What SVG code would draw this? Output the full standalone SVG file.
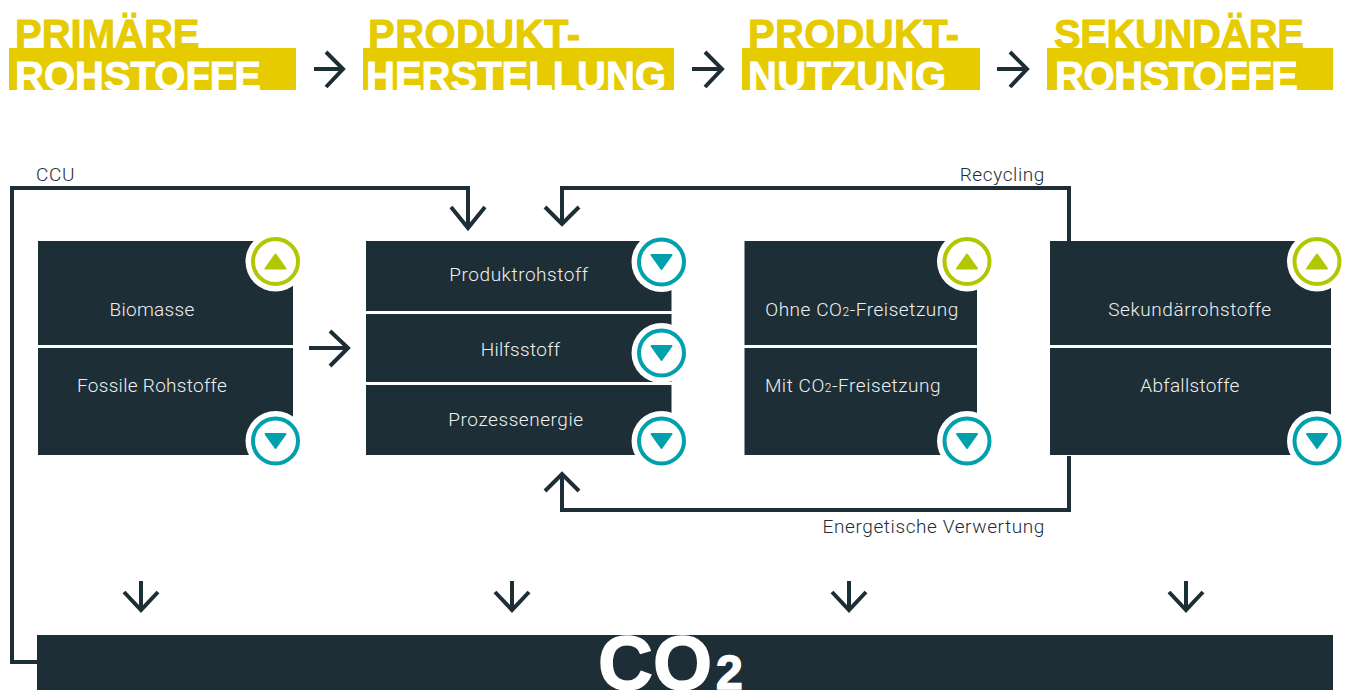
<svg xmlns="http://www.w3.org/2000/svg" width="1349" height="690" viewBox="0 0 1349 690">
<style>
.band{fill:#e5cb00}
.h1{font:bold 40px "Liberation Sans",sans-serif;fill:#e5cb00;stroke:#e5cb00;stroke-width:.9}
.h2{font:bold 40px "Liberation Sans",sans-serif;fill:#fff;stroke:#fff;stroke-width:.9}
.box{fill:#1e2e36}
.t{font:300 19px Roboto,sans-serif;letter-spacing:.55px;fill:#eef0f0;text-anchor:middle}
.n{letter-spacing:.3px}
.s{font-size:12px}
.l{font:300 19px Roboto,sans-serif;letter-spacing:.6px;fill:#1e2e36}
.ln{fill:none;stroke:#1e2e36;stroke-width:4}
.ar{fill:none;stroke:#1e2e36;stroke-width:4}
.halo{fill:#fff}
.up{fill:#fff;stroke:#b1c800;stroke-width:4}
.dn{fill:#fff;stroke:#00a0ad;stroke-width:4}
.tu{fill:#b1c800;stroke:#b1c800;stroke-width:2;stroke-linejoin:round}
.td{fill:#00a0ad;stroke:#00a0ad;stroke-width:2;stroke-linejoin:round}
</style>
<defs>
<clipPath id="c1"><rect x="0" y="48" width="1349" height="42"/></clipPath>
<g id="up"><circle class="halo" r="30"/><circle class="up" r="22.5"/><path class="tu" d="M-10 7H10L0 -7Z"/></g>
<g id="dn"><circle class="halo" r="30"/><circle class="dn" r="22.5"/><path class="td" d="M-10 -7H10L0 7Z"/></g>
</defs>
<g id="head-1"><rect class="band" x="9" y="48" width="287" height="42"/><text class="h1" x="15" y="48">PRIMÄRE</text><text class="h2" x="15" y="90" clip-path="url(#c1)">ROHSTOFFE</text></g>
<g id="head-2"><rect class="band" x="363" y="48" width="311" height="42"/><text class="h1" x="368" y="48" textLength="212">PRODUKT-</text><text class="h2" x="366" y="90" clip-path="url(#c1)">HERSTELLUNG</text></g>
<g id="head-3"><rect class="band" x="742" y="48" width="238" height="42"/><text class="h1" x="748" y="48" textLength="211">PRODUKT-</text><text class="h2" x="748" y="90" clip-path="url(#c1)" textLength="198">NUTZUNG</text></g>
<g id="head-4"><rect class="band" x="1047" y="48" width="286" height="42"/><text class="h1" x="1054" y="48" textLength="250">SEKUNDÄRE</text><text class="h2" x="1055" y="90" clip-path="url(#c1)" textLength="243">ROHSTOFFE</text></g>
<g id="connectors">
<path class="ln" d="M37 662H12V188H468V228"/>
<path class="ln" d="M1069 241V188H562V224"/>
<path class="ln" d="M1069 456V510H562V474"/>
<path class="ar" d="M314 69H343M326 52L343 69L326 87"/>
<path class="ar" d="M692 69H722M705 52L722 69L705 87"/>
<path class="ar" d="M997 69H1027M1010 52L1027 69L1010 87"/>
<path class="ar" d="M309 348H348M330 331L348 348L330 366"/>
<path class="ar" d="M451 207L468 228L485 207"/>
<path class="ar" d="M545 207L562 224L579 207"/>
<path class="ar" d="M545 491L562 474L579 491"/>
<path class="ar" d="M141 581V610M124 592L141 610L158 592"/>
<path class="ar" d="M512 581V610M495 592L512 610L529 592"/>
<path class="ar" d="M849 581V610M832 592L849 610L866 592"/>
<path class="ar" d="M1186 581V610M1169 592L1186 610L1203 592"/>
</g>
<text class="l" x="36" y="181">CCU</text>
<text class="l" x="1045" y="181" text-anchor="end">Recycling</text>
<text class="l" x="1045" y="533" text-anchor="end">Energetische Verwertung</text>
<g id="biomasse"><rect class="box" x="38" y="241" width="255" height="104"/><text class="t n" x="152" y="316">Biomasse</text></g>
<g id="fossil"><rect class="box" x="38" y="348" width="255" height="107"/><text class="t n" x="152" y="392">Fossile Rohstoffe</text></g>
<g id="produktrohstoff"><rect class="box" x="366" y="241" width="305.500" height="70"/><text class="t" x="519" y="281">Produktrohstoff</text></g>
<g id="hilfsstoff"><rect class="box" x="366" y="314" width="305.500" height="68"/><text class="t n" x="520.500" y="356">Hilfsstoff</text></g>
<g id="prozessenergie"><rect class="box" x="366" y="385" width="305.500" height="70"/><text class="t" x="516" y="426">Prozessenergie</text></g>
<g id="ohne"><rect class="box" x="744.500" y="241" width="232.500" height="104"/><text class="t" x="862" y="316">Ohne CO<tspan class="s">2</tspan>-Freisetzung</text></g>
<g id="mit"><rect class="box" x="744.500" y="348" width="232.500" height="107"/><text class="t" x="853" y="392">Mit CO<tspan class="s">2</tspan>-Freisetzung</text></g>
<g id="sekundaer"><rect class="box" x="1050" y="241" width="281" height="104"/><text class="t" x="1190" y="316">Sekundärrohstoffe</text></g>
<g id="abfall"><rect class="box" x="1050" y="348" width="281" height="107"/><text class="t n" x="1190" y="392">Abfallstoffe</text></g>
<g id="co2"><rect class="box" x="37" y="635" width="1296" height="55"/><text x="598" y="689" font-family="Liberation Sans,sans-serif" font-weight="bold" font-size="76" fill="#fff" stroke="#fff" stroke-width="1.5">CO<tspan dx="4" font-size="48">2</tspan></text></g>
<g id="ind-1"><use href="#up" x="275.500" y="261.500"/></g>
<g id="ind-2"><use href="#dn" x="275.500" y="441"/></g>
<g id="ind-3"><use href="#dn" x="661.500" y="262"/></g>
<g id="ind-4"><use href="#dn" x="661.500" y="353"/></g>
<g id="ind-5"><use href="#dn" x="661.500" y="441"/></g>
<g id="ind-6"><use href="#up" x="967" y="261.500"/></g>
<g id="ind-7"><use href="#dn" x="967" y="441"/></g>
<g id="ind-8"><use href="#up" x="1317" y="261.500"/></g>
<g id="ind-9"><use href="#dn" x="1317" y="441"/></g>
</svg>
